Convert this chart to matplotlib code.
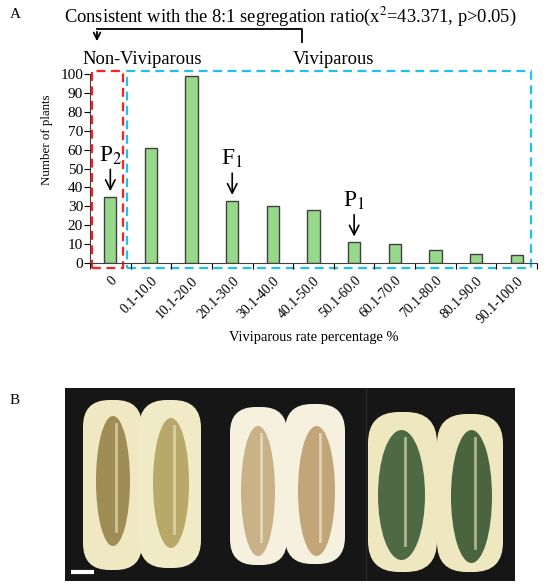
import matplotlib
matplotlib.use("Agg")
import matplotlib.pyplot as plt
from matplotlib.patches import Rectangle, FancyBboxPatch, Ellipse, FancyArrowPatch

plt.rcParams['font.family'] = ['Liberation Serif', 'DejaVu Serif']
plt.rcParams['mathtext.fontset'] = 'stix'

# bar chart data
categories = ["0", "0.1-10.0", "10.1-20.0", "20.1-30.0", "30.1-40.0", "40.1-50.0",
              "50.1-60.0", "60.1-70.0", "70.1-80.0", "80.1-90.0", "90.1-100.0"]
plants = [35, 61, 99, 33, 30, 28, 11, 10, 7, 5, 4]
markers = {0: "P$_2$", 3: "F$_1$", 6: "P$_1$"}

W, H = 550, 587
fig = plt.figure(figsize=(W / 100, H / 100), dpi=100)


def fx(x):
    return x / W


def fy(y):
    return 1 - y / H


ax = fig.add_axes([fx(90), fy(263), fx(537) - fx(90), fy(74) - fy(263)])
xs = list(range(len(categories)))
ax.bar(xs, plants, width=0.3, color="#98d88a", edgecolor="#404040", linewidth=1)
ax.set_xlim(-0.5, len(categories) - 0.5)
ax.set_ylim(0, 100)
ax.set_yticks(range(0, 101, 10))
ax.set_xticks([x - 0.5 for x in range(len(categories) + 1)], minor=False)
ax.set_xticklabels([])
ax.set_xticks(xs, minor=True)
ax.set_xticklabels(categories, minor=True, rotation=45, ha="right", va="top",
                   rotation_mode="anchor", fontsize=10)
ax.tick_params(axis="x", which="minor", length=0, pad=8)
ax.tick_params(axis="x", which="major", length=4, direction="out")
ax.tick_params(axis="y", length=4, labelsize=11, pad=1)
for s in ["top", "right"]:
    ax.spines[s].set_visible(False)
for s in ["left", "bottom"]:
    ax.spines[s].set_color("#404040")
ax.set_xlabel("Viviparous rate percentage %", fontsize=10.4, va="center")
ax.xaxis.set_label_coords(0.5, (263 - 338) / 189)
ax.set_ylabel("Number of plants", fontsize=9.4)
ax.yaxis.set_label_coords(-0.083, 0.65)

# dashed group boxes
ax.add_patch(Rectangle((-0.45, -2.6), 0.76, 104.2, fill=False, ls=(0, (4, 2.5)),
                       ec="#ff1f1f", lw=1.6, clip_on=False))
ax.add_patch(Rectangle((0.41, -2.6), 9.94, 104.2, fill=False, ls=(0, (4, 2.5)),
                       ec="#1fc0f0", lw=1.6, clip_on=False))

# parent / F1 arrows
for i, lab in markers.items():
    ax.annotate(lab, xy=(i, plants[i] + 3), xytext=(i, plants[i] + 16),
                ha="center", va="bottom", fontsize=17,
                arrowprops=dict(arrowstyle="->", color="black", lw=1.2,
                                shrinkA=0, shrinkB=0))

# header texts and bracket
fig.text(fx(290), fy(17), "Consistent with the 8:1 segregation ratio(x$^{2}$=43.371, p>0.05)",
         ha="center", va="center", fontsize=13.3)
fig.text(fx(142), fy(60), "Non-Viviparous", ha="center", va="center", fontsize=13.3)
fig.text(fx(333), fy(60), "Viviparous", ha="center", va="center", fontsize=13.3)
fig.add_artist(plt.Line2D([fx(97), fx(302), fx(302)], [fy(29), fy(29), fy(42)],
                          color="black", lw=1.3))
fig.add_artist(FancyArrowPatch((fx(97), fy(29)), (fx(97), fy(44)),
                               transform=fig.transFigure, arrowstyle="->",
                               mutation_scale=12, color="black", lw=1.3))
fig.text(fx(15), fy(15), "A", ha="center", va="center", fontsize=11)
fig.text(fx(15), fy(400), "B", ha="center", va="center", fontsize=11)

# panel B: sketch of the fruit photograph
axb = fig.add_axes([fx(65), fy(581), fx(515) - fx(65), fy(388) - fy(581)])
axb.set_xlim(0, 450)
axb.set_ylim(193, 0)
axb.set_facecolor("#161616")
axb.set_xticks([])
axb.set_yticks([])
for s in axb.spines.values():
    s.set_visible(False)
axb.axvline(301, color="#2c2c2c", lw=0.8)

fruits = [
    # x0, x1, y0, y1, flesh, seed color, seed box
    (18, 77, 12, 182, "#efe8c2", "#a08c55", (31, 65, 28, 158)),
    (74, 136, 12, 180, "#f0eac6", "#b8a86a", (88, 124, 30, 160)),
    (165, 222, 19, 177, "#f5f1de", "#c9b287", (176, 210, 38, 168)),
    (220, 280, 16, 176, "#f5f1de", "#c2a67a", (233, 270, 38, 168)),
    (303, 372, 24, 184, "#efe7c0", "#4e6a45", (313, 360, 42, 172)),
    (372, 438, 26, 184, "#efe7c0", "#4a6440", (386, 427, 42, 175)),
]
for x0, x1, y0, y1, flesh, seed, (sx0, sx1, sy0, sy1) in fruits:
    r = (x1 - x0) / 2 * 0.9
    axb.add_patch(FancyBboxPatch((x0 + r, y0 + r), (x1 - x0) - 2 * r, (y1 - y0) - 2 * r,
                                 boxstyle="round,pad=%f" % r, fc=flesh, ec="none"))
    axb.add_patch(Ellipse(((sx0 + sx1) / 2, (sy0 + sy1) / 2), sx1 - sx0, sy1 - sy0,
                          fc=seed, ec="none"))
    axb.plot([(sx0 + sx1) / 2 + 3] * 2, [sy0 + 8, sy1 - 15], color=flesh, lw=2, alpha=0.6)
axb.plot([6, 29], [184, 184], color="white", lw=3, solid_capstyle="butt")

fig.savefig("out.png", dpi=100)
